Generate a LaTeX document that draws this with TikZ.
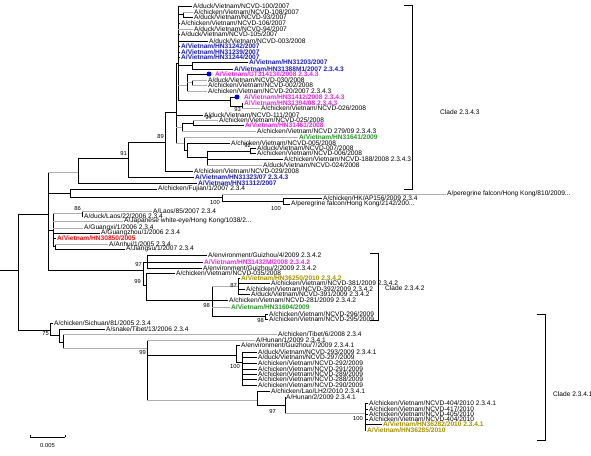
\documentclass[tikz,border=0pt]{standalone}
\usepackage{fontspec}
\setmainfont{Liberation Sans}
\definecolor{blu}{RGB}{30,30,190}
\definecolor{mag}{RGB}{230,40,230}
\definecolor{grn}{RGB}{40,150,40}
\definecolor{oli}{RGB}{165,145,0}
\definecolor{redl}{RGB}{240,20,20}
\definecolor{gline}{RGB}{175,175,175}
\newcommand{\fs}{\fontsize{6.6}{7}\selectfont}
\newcommand{\fsb}{\fontsize{5.8}{7}\selectfont}
\newcommand{\vl}[3]{\draw[br] (#1 |- #2) -- (#1 |- #3);}
\newcommand{\hb}[2]{\draw[br] (#1 |- #2) -- (#2);}
\newcommand{\hg}[2]{\draw[gb] (#1 |- #2) -- (#2);}
\tikzset{
 lf/.style={anchor=west, inner sep=0pt, outer sep=1.2pt, font=\fs},
 bl/.style={lf, text=blu, font=\fs\bfseries},
 mg/.style={lf, text=mag, font=\fs\bfseries},
 gn/.style={lf, text=grn, font=\fs\bfseries},
 ol/.style={lf, text=oli, font=\fs\bfseries},
 rd/.style={lf, text=redl, font=\fs\bfseries},
 bs/.style={anchor=east, inner sep=0pt, font=\fsb},
 br/.style={line width=0.6pt, black},
 gb/.style={line width=0.6pt, gline},
 dotn/.style={circle, fill=blue, inner sep=0pt, minimum size=5pt, outer sep=0pt},
 clab/.style={anchor=west, inner sep=0pt, font=\fs},
}
\begin{document}
\begin{tikzpicture}[x=1pt,y=-1pt]
\useasboundingbox (0,0) rectangle (591,455);
% ---------- internal nodes ----------
\coordinate (root) at (0,270);
\coordinate (r) at (18,270);
\coordinate (n48) at (48,214);
\coordinate (n78) at (78,172);
\coordinate (n91) at (128,158);
\coordinate (n89) at (165,142);
\coordinate (nC) at (176,112);
\coordinate (t1) at (178,63);
\coordinate (nA2) at (183,14);
\coordinate (nT2) at (192,65);
\coordinate (nT3) at (187,85);
\coordinate (nT3a) at (192,82);
\coordinate (nT4) at (230,100);
\coordinate (nT4b) at (242,106);
\coordinate (nE) at (182,127);
\coordinate (nE1) at (193,123);
\coordinate (nF) at (184,143);
\coordinate (nF1) at (187,150);
\coordinate (nF2) at (207,157);
\coordinate (nF3) at (250,151);
\coordinate (fj) at (70,193);
\coordinate (p0) at (222,197);
\coordinate (p1) at (283,201);
\coordinate (h) at (53,230);
\coordinate (nL) at (82,213);
\coordinate (nAJ) at (55,246);
\coordinate (q) at (143,270);
\coordinate (q1) at (147,262);
\coordinate (q2) at (146,285);
\coordinate (q3) at (212,300);
\coordinate (q87) at (238,286);
\coordinate (q98) at (265,316);
\coordinate (n75) at (50,330);
\coordinate (nT) at (59,335);
\coordinate (nT6) at (63,342);
\coordinate (n99) at (147,348);
\coordinate (nX) at (236,355);
\coordinate (na) at (242,362);
\coordinate (n97) at (257,400);
\coordinate (n87) at (285,405);
\coordinate (nb) at (365,413);
% ---------- leaves ----------
\node[lf] (l1) at (192,6) {A/duck/Vietnam/NCVD-100/2007};
\node[lf] (l2) at (193,12) {A/chicken/Vietnam/NCVD-108/2007};
\node[lf] (l3) at (193,17) {A/duck/Vietnam/NCVD-93/2007};
\node[lf] (l4) at (180,23) {A/chicken/Vietnam/NCVD-106/2007};
\node[lf] (l5) at (193,29) {A/duck/Vietnam/NCVD-94/2007};
\node[lf] (l6) at (180,34) {A/duck/Vietnam/NCVD-105/2007};
\node[lf] (l7) at (208,41) {A/duck/Vietnam/NCVD-003/2008};
\node[bl] (l8) at (180,46) {A/Vietnam/HN31242/2007};
\node[bl] (l9) at (180,52) {A/Vietnam/HN31239/2007};
\node[bl] (l10) at (180,57) {A/Vietnam/HN31244/2007};
\node[bl] (l11) at (248,62) {A/Vietnam/HN31203/2007};
\node[bl] (l12) at (233,69) {A/Vietnam/HN31388M1/2007 2.3.4.3};
\node[dotn] (d13) at (209,74) {};
\node[mg] (l13) at (214,74) {A/Vietnam/UT31413II/2008 2.3.4.3};
\node[lf] (l14) at (207,80) {A/duck/Vietnam/NCVD-030/2008};
\node[lf] (l15) at (207,85) {A/chicken/Vietnam/NCVD-002/2008};
\node[lf] (l16) at (207,91) {A/chicken/Vietnam/NCVD-20/2007 2.3.4.3};
\node[dotn] (d17) at (237,97) {};
\node[mg] (l17) at (243,97) {A/Vietnam/HN31412/2008 2.3.4.3};
\node[mg] (l18) at (243,103) {A/Vietnam/HN31394/08 2.3.4.3};
\node[lf] (l19) at (260,108) {A/chicken/Vietnam/NCVD-026/2008};
\node[lf] (l20) at (203,115) {A/duck/Vietnam/NCVD-111/2007};
\node[lf] (l21) at (218,120) {A/chicken/Vietnam/NCVD-025/2008};
\node[mg] (l22) at (244,125) {A/Vietnam/HN31461/2008};
\node[lf] (l23) at (256,131) {A/chicken/Vietnam/NCVD 279/09 2.3.4.3};
\node[gn] (l24) at (298,137) {A/Vietnam/HN31641/2009};
\node[lf] (l25) at (230,143) {A/chicken/Vietnam/NCVD-005/2008};
\node[lf] (l26) at (256,148) {A/duck/Vietnam/NCVD-007/2008};
\node[lf] (l27) at (256,153) {A/chicken/Vietnam/NCVD-006/2008};
\node[lf] (l28) at (283,159) {A/chicken/Vietnam/NCVD-188/2008 2.3.4.3};
\node[lf] (l29) at (262,165) {A/duck/Vietnam/NCVD-024/2008};
\node[lf] (l30) at (193,171) {A/chicken/Vietnam/NCVD-029/2008};
\node[bl] (l31) at (194,177) {A/Vietnam/HN31323/07 2.3.4.3};
\node[bl] (l32) at (197,183) {A/Vietnam/HN31312/2007};
\node[lf] (l33) at (157,189) {A/chicken/Fujian/1/2007 2.3.4};
\node[lf] (l34) at (446,194) {A/peregrine falcon/Hong Kong/810/2009...};
\node[lf] (l35) at (322,198) {A/chicken/HK/AP156/2009 2.3.4};
\node[lf] (l36) at (290,204) {A/peregrine falcon/Hong Kong/2142/200...};
\node[lf] (l37) at (152,211) {A/Laos/85/2007 2.3.4};
\node[lf] (l38) at (83,216) {A/duck/Laos/22/2006 2.3.4};
\node[lf] (l39) at (123,221) {A/Japanese white-eye/Hong Kong/1038/2...};
\node[lf] (l40) at (83,228) {A/Guangxi/1/2006 2.3.4};
\node[lf] (l41) at (100,233) {A/Guangzhou/1/2006 2.3.4};
\node[rd] (l42) at (56,238) {A/Vietnam/HN30850/2005};
\node[lf] (l43) at (108,244) {A/Anhui/1/2005 2.3.4};
\node[lf] (l44) at (125,249) {A/Jiangsu/1/2007 2.3.4};
\node[lf] (l45) at (207,255) {A/environment/Guizhou/4/2009 2.3.4.2};
\node[mg] (l46) at (203,262) {A/Vietnam/HN31432M/2008 2.3.4.2};
\node[lf] (l47) at (202,268) {A/environment/Guizhou/2/2009 2.3.4.2};
\node[lf] (l48) at (175,273) {A/chicken/Vietnam/NCVD-035/2008};
\node[ol] (l49) at (240,278) {A/Vietnam/HN36250/2010 2.3.4.2};
\node[lf] (l50) at (270,283) {A/chicken/Vietnam/NCVD-381/2009 2.3.4.2};
\node[lf] (l51) at (245,289) {A/chicken/Vietnam/NCVD-392/2009 2.3.4.2};
\node[lf] (l52) at (250,294) {A/duck/Vietnam/NCVD-391/2009 2.3.4.2};
\node[lf] (l53) at (228,300) {A/chicken/Vietnam/NCVD-281/2009 2.3.4.2};
\node[gn] (l54) at (230,307) {A/Vietnam/HN31604/2009};
\node[lf] (l55) at (268,314) {A/chicken/Vietnam/NCVD-296/2009};
\node[lf] (l56) at (268,319) {A/chicken/Vietnam/NCVD-295/2009};
\node[lf] (l57) at (53,323) {A/chicken/Sichuan/81/2005 2.3.4};
\node[lf] (l58) at (105,329) {A/snake/Tibet/13/2006 2.3.4};
\node[lf] (l59) at (277,334) {A/chicken/Tibet/6/2008 2.3.4};
\node[lf] (l60) at (255,340) {A/Hunan/1/2009 2.3.4.1};
\node[lf] (l61) at (240,345) {A/environment/Guizhou/7/2009 2.3.4.1};
\node[lf] (l62) at (257,352) {A/duck/Vietnam/NCVD-293/2009 2.3.4.1};
\node[lf] (l63) at (257,357) {A/duck/Vietnam/NCVD-297/2009};
\node[lf] (l64) at (257,363) {A/chicken/Vietnam/NCVD-292/2009};
\node[lf] (l65) at (257,369) {A/chicken/Vietnam/NCVD-291/2009};
\node[lf] (l66) at (257,374) {A/chicken/Vietnam/NCVD-289/2009};
\node[lf] (l67) at (257,379) {A/chicken/Vietnam/NCVD-288/2009};
\node[lf] (l68) at (257,385) {A/chicken/Vietnam/NCVD-290/2009};
\node[lf] (l69) at (270,391) {A/chicken/Lao/LH2/2010 2.3.4.1};
\node[lf] (l70) at (285,397) {A/Hunan/2/2009 2.3.4.1};
\node[lf] (l71) at (368,403) {A/chicken/Vietnam/NCVD-404/2010 2.3.4.1};
\node[lf] (l72) at (368,409) {A/chicken/Vietnam/NCVD-417/2010};
\node[lf] (l73) at (368,414) {A/chicken/Vietnam/NCVD-405/2010};
\node[lf] (l74) at (368,419) {A/chicken/Vietnam/NCVD-404/2010};
\node[ol] (l75) at (382,424) {A/Vietnam/HN36282/2010 2.3.4.1};
\node[ol] (l76) at (366,430) {A/Vietnam/HN36285/2010};
% ---------- branches ----------
\draw[br] (root) -- (r);
\vl{r}{n48}{n75} \hb{r}{n48} \hb{r}{n75}
\vl{n48}{n78}{q} \hg{n48}{n78} \hb{n48}{fj} \hb{n48}{h} \hb{n48}{q}
\vl{n78}{n91}{l32} \hb{n78}{n91} \hb{n78}{l32}
\vl{n91}{n89}{l31} \hb{n91}{n89} \hb{n91}{l31}
\vl{n89}{nC}{l30} \hb{n89}{nC} \hb{n89}{l30}
\vl{nC}{t1}{nF} \hb{nC}{t1} \hb{nC}{l20} \hg{nC}{nE} \hg{nC}{nF}
\vl{t1}{l1}{nT4} \hb{t1}{l1} \hb{t1}{nA2} \hb{t1}{l4} \hg{t1}{l5} \hb{t1}{l6} \hb{t1}{l7}
\hb{t1}{l8} \hb{t1}{l9} \hb{t1}{l10} \hb{t1}{nT2} \hg{t1}{nT3} \hb{t1}{nT4}
\vl{nA2}{l2}{l3} \hg{nA2}{l2} \hb{nA2}{l3}
\vl{nT2}{l11}{l12} \hb{nT2}{l11} \hb{nT2}{l12}
\vl{nT3}{d13}{l16} \hb{nT3}{d13} \hg{nT3}{nT3a} \hg{nT3}{l16}
\vl{nT3a}{l14}{l15} \hg{nT3a}{l14} \hg{nT3a}{l15}
\vl{nT4}{d17}{nT4b} \hb{nT4}{d17} \hb{nT4}{nT4b}
\vl{nT4b}{l18}{l19} \hb{nT4b}{l18} \hg{nT4b}{l19}
\vl{nE}{nE1}{l23} \hb{nE}{nE1} \hg{nE}{l23}
\vl{nE1}{l21}{l22} \hg{nE1}{l21} \hb{nE1}{l22}
\vl{nF}{l24}{nF1} \hg{nF}{l24} \hb{nF}{nF1}
\vl{nF1}{l25}{nF2} \hb{nF1}{l25} \hb{nF1}{nF2}
\vl{nF2}{nF3}{l29} \hb{nF2}{nF3} \hb{nF2}{l28} \hg{nF2}{l29}
\vl{nF3}{l26}{l27} \hb{nF3}{l26} \hb{nF3}{l27}
\vl{fj}{l33}{p0} \hb{fj}{l33} \hb{fj}{p0}
\vl{p0}{l34}{p1} \hg{p0}{l34} \hb{p0}{p1}
\vl{p1}{l35}{l36} \hb{p1}{l35} \hb{p1}{l36}
\vl{h}{nL}{nAJ} \hg{h}{nL} \hg{h}{l39} \hg{h}{l40} \hb{h}{l41} \hb{h}{l42} \hb{h}{nAJ}
\vl{nL}{l37}{l38} \hg{nL}{l37} \hb{nL}{l38}
\vl{nAJ}{l43}{l44} \hg{nAJ}{l43} \hb{nAJ}{l44}
\vl{q}{q1}{q2} \hb{q}{q1} \hb{q}{q2}
\vl{q1}{l45}{l47} \hb{q1}{l45} \hb{q1}{l46} \hb{q1}{l47}
\vl{q2}{l48}{q3} \hb{q2}{l48} \hb{q2}{q3}
\vl{q3}{q87}{q98} \hg{q3}{q87} \hb{q3}{l53} \hg{q3}{l54} \hb{q3}{q98}
\vl{q87}{l49}{l52} \hb{q87}{l49} \hb{q87}{l50} \hb{q87}{l51} \hb{q87}{l52}
\vl{q98}{l55}{l56} \hb{q98}{l55} \hb{q98}{l56}
\vl{n75}{l57}{nT} \hb{n75}{l57} \hb{n75}{nT}
\vl{nT}{l58}{nT6} \hb{nT}{l58} \hb{nT}{nT6}
\vl{nT6}{l59}{n99} \hg{nT6}{l59} \hg{nT6}{n99}
\vl{n99}{l60}{n97} \hg{n99}{l60} \hb{n99}{nX} \hg{n99}{n97}
\vl{nX}{l61}{na} \hb{nX}{l61} \hb{nX}{na}
\vl{na}{l62}{l68} \foreach \k in {62,...,68}{\hb{na}{l\k}}
\vl{n97}{l69}{n87} \hb{n97}{l69} \hb{n97}{n87}
\vl{n87}{l70}{nb} \hb{n87}{l70} \hg{n87}{nb}
\vl{nb}{l71}{l76} \foreach \k in {71,...,76}{\hb{nb}{l\k}}
% ---------- bootstrap values ----------
\node[bs] (b93) at (241,110) {93};
\node[bs] (b94) at (212,118) {94};
\node[bs] (b89) at (164,137) {89};
\node[bs] (b92) at (251,146) {92};
\node[bs] (b91) at (127,154) {91};
\node[bs] (b100a) at (220,203) {100};
\node[bs] (b100b) at (281,208) {100};
\node[bs] (b86) at (81,208) {86};
\node[bs] (b97) at (142,264) {97};
\node[bs] (b99a) at (141,281) {99};
\node[bs] (b87) at (237,285) {87};
\node[bs] (b98a) at (210,305) {98};
\node[bs] (b98b) at (264,320) {98};
\node[bs] (b75) at (49,334) {75};
\node[bs] (b99b) at (146,352) {99};
\node[bs] (b100c) at (240,366) {100};
\node[bs] (b97b) at (276,411) {97};
\node[bs] (b100d) at (363,418) {100};
% ---------- clade brackets ----------
\coordinate (c1a) at (404,5); \coordinate (c1b) at (412,5);
\coordinate (c1c) at (412,189); \coordinate (c1d) at (404,189);
\draw[br] (c1a) -- (c1b) -- (c1c) -- (c1d);
\node[clab] (cl1) at (440,112) {Clade 2.3.4.3};
\coordinate (c2a) at (370,253); \coordinate (c2b) at (378,253);
\coordinate (c2c) at (378,320); \coordinate (c2d) at (370,320);
\draw[br] (c2a) -- (c2b) -- (c2c) -- (c2d);
\node[clab] (cl2) at (385,288) {Clade 2.3.4.2};
\coordinate (c3a) at (537,314); \coordinate (c3b) at (545,314);
\coordinate (c3c) at (545,440); \coordinate (c3d) at (537,440);
\draw[br] (c3a) -- (c3b) -- (c3c) -- (c3d);
\node[clab] (cl3) at (553,394) {Clade 2.3.4.1};
% ---------- scale bar ----------
\coordinate (s1) at (30,437); \coordinate (s2) at (65,437);
\draw[br] (s1) -- (s2);
\draw[br] (s1) -- ++(0,-2); \draw[br] (s2) -- ++(0,-2);
\node[anchor=north, inner sep=0pt, font=\fsb] (sl) at (47.5,443) {0.005};
\end{tikzpicture}
\end{document}
